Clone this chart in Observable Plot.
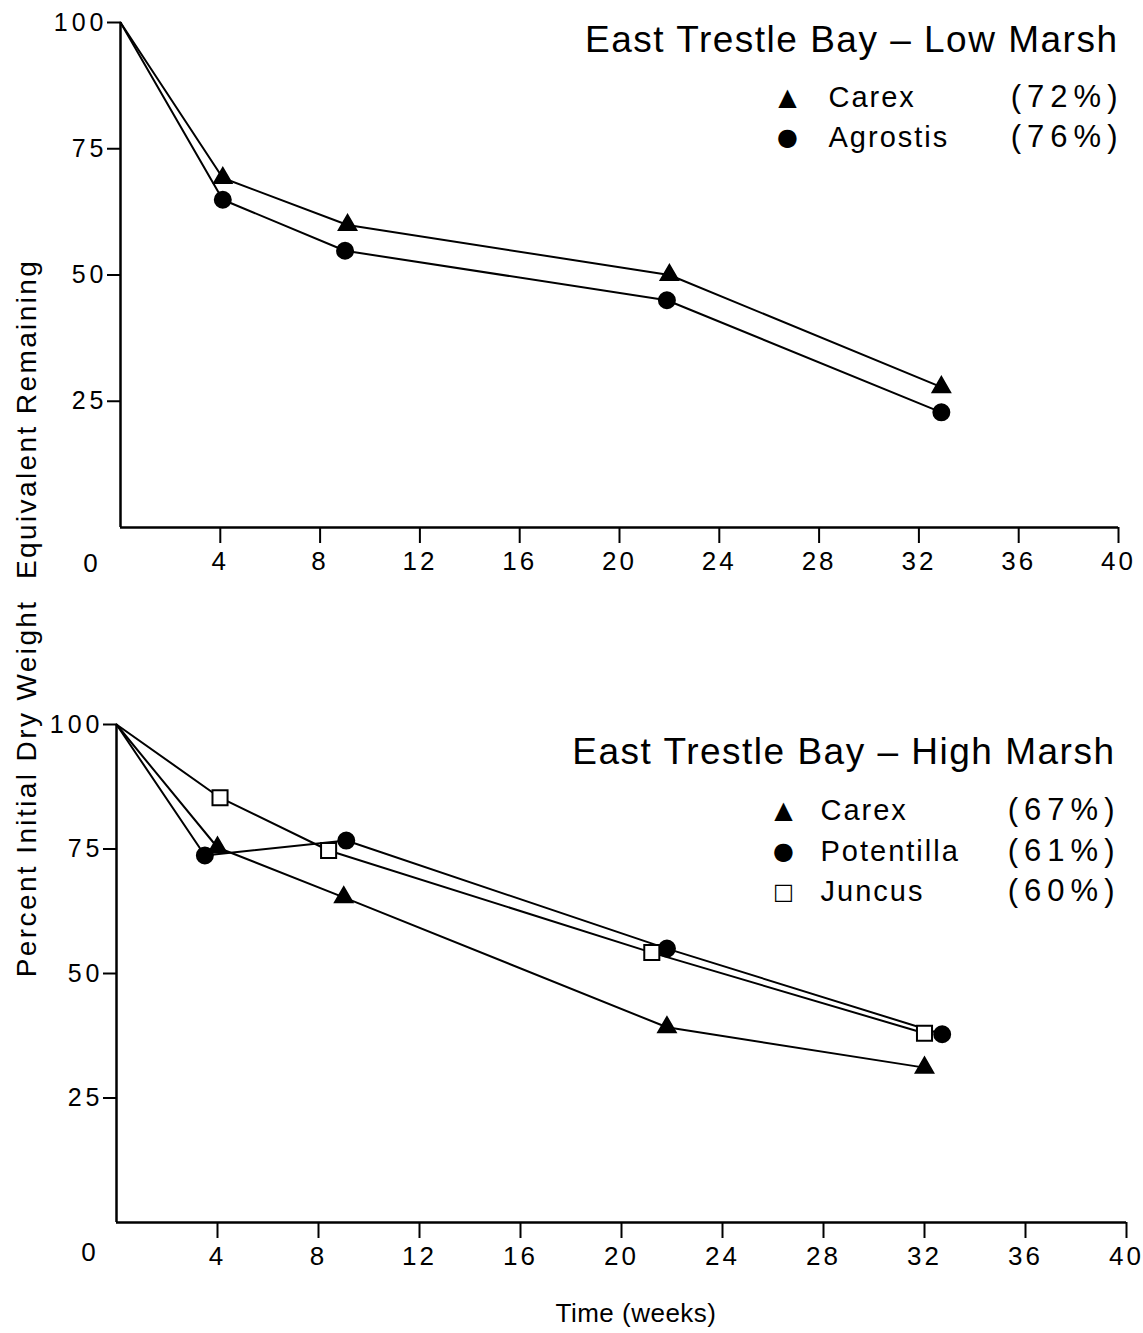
<!DOCTYPE html>
<html><head><meta charset="utf-8">
<script src="https://cdn.jsdelivr.net/npm/d3@7"></script>
<script src="https://cdn.jsdelivr.net/npm/@observablehq/plot@0.6"></script>
<style>
body{margin:0;background:#fff;}
#wrap{position:relative;width:1143px;height:1333px;font-family:"Liberation Sans",Arial,sans-serif;color:#000;background:#fff;overflow:hidden;}
.panel{position:absolute;left:0;}
.panel svg g[aria-label="x-axis tick label"] text{letter-spacing:3px;}
.panel svg g[aria-label="y-axis tick label"] text{letter-spacing:4px;}
.panel svg .ttl text{letter-spacing:1.5px;}
.panel svg .lab text{letter-spacing:2px;}
.panel svg .pct text{letter-spacing:6px;}
#ylab{position:absolute;left:27px;top:618px;transform:translate(-50%,-50%) rotate(-90deg);white-space:nowrap;font-size:28px;letter-spacing:2.4px;}
#xlab{position:absolute;left:636px;top:1313px;transform:translate(-50%,-50%);white-space:nowrap;font-size:26px;letter-spacing:0.5px;}
</style>
</head><body>
<div id="wrap">
  <div id="top" class="panel" style="top:0px"></div>
  <div id="bottom" class="panel" style="top:700px"></div>
  <div id="ylab">Percent Initial Dry Weight &nbsp;Equivalent Remaining</div>
  <div id="xlab">Time (weeks)</div>
</div>
<script>
// ---- tick labels ----
const xTicks = [4, 8, 12, 16, 20, 24, 28, 32, 36, 40];
const yTicks = [25, 50, 75, 100];
const originLabel = ["0"];

// ---- Low Marsh panel ----
const lowTitle = "East Trestle Bay \u2013 Low Marsh";
const lowSpecies = ["Carex", "Agrostis"];
const lowPercent = ["(72%)", "(76%)"];
const lowSymbols = ["triangle", "circle"];
const lowCarexWeeks = [0, 4.1, 9.1, 22.0, 32.9];
const lowCarexPct = [100, 69.2, 59.9, 50.0, 27.8];
const lowAgrostisWeeks = [0, 4.1, 9.0, 21.9, 32.9];
const lowAgrostisPct = [100, 64.9, 54.8, 45.0, 22.8];

// ---- High Marsh panel ----
const highTitle = "East Trestle Bay \u2013 High Marsh";
const highSpecies = ["Carex", "Potentilla", "Juncus"];
const highPercent = ["(67%)", "(61%)", "(60%)"];
const highSymbols = ["triangle", "circle", "square"];
const highCarexWeeks = [0, 4.0, 9.0, 21.8, 32.0];
const highCarexPct = [100, 75.3, 65.3, 39.2, 31.1];
const highPotentillaWeeks = [0, 3.5, 9.1, 21.8, 32.7];
const highPotentillaPct = [100, 73.7, 76.7, 55.0, 37.8];
const highJuncusWeeks = [0, 4.1, 8.4, 21.2, 32.0];
const highJuncusPct = [100, 85.3, 74.7, 54.2, 38.0];

function rows(name, weeks, pct) {
  return weeks.map((w, i) => ({species: name, week: w, pct: pct[i], i}));
}

const glyph = {triangle: "\u25B2", circle: "\u25CF", square: "\u25A1"};
const symR = {triangle: 6.5, circle: 8, square: 8.5};

function panel({series, symbols, species, percent, title, width, height, mt, mb, ml, mr, leg, zeroOff}) {
  const data = series.flat();
  const marks = [
    Plot.ruleY([0], {stroke: "#000", strokeWidth: 2.5}),
    Plot.ruleX([0], {stroke: "#000", strokeWidth: 2.5}),
    Plot.axisX({ticks: xTicks, tickSize: 16, tickPadding: 8, fontSize: 26, tickFormat: d => d, label: null, stroke: "#000", strokeWidth: 2}),
    Plot.axisY({ticks: yTicks, tickSize: 13, tickPadding: 0, fontSize: 25, tickFormat: d => d, label: null, stroke: "#000", strokeWidth: 2}),
    Plot.line(data, {x: "week", y: "pct", z: "species", stroke: "#000", strokeWidth: 2})
  ];
  series.forEach((s, k) => {
    const sym = symbols[k];
    marks.push(Plot.dot(s.filter(d => d.i > 0), {
      x: "week", y: "pct", symbol: sym, r: symR[sym],
      fill: sym === "square" ? "#fff" : "#000", stroke: "#000", strokeWidth: 2
    }));
  });
  marks.push(Plot.text(originLabel, {x: () => 0, y: () => 0, text: d => d, dx: zeroOff[0], dy: zeroOff[1], fontSize: 26, fill: "#000"}));
  marks.push(Plot.text([title], {frameAnchor: "top-right", text: d => d, dx: leg.titleDx, dy: leg.titleDy, textAnchor: "end", lineAnchor: "middle", fontSize: 37, fill: "#000", className: "ttl"}));
  species.forEach((s, i) => {
    const dy = leg.rowDy[i];
    marks.push(Plot.text([glyph[symbols[i]]], {frameAnchor: "top-right", text: d => d, dx: leg.symDx, dy, textAnchor: "middle", lineAnchor: "middle", fontSize: symbols[i] === "square" ? 22 : 24, fontFamily: "DejaVu Sans", fill: "#000"}));
    marks.push(Plot.text([s], {frameAnchor: "top-right", text: d => d, dx: leg.labDx, dy, textAnchor: "start", lineAnchor: "middle", fontSize: 29, fill: "#000", className: "lab"}));
    marks.push(Plot.text([percent[i]], {frameAnchor: "top-right", text: d => d, dx: leg.pctDx, dy, textAnchor: "end", lineAnchor: "middle", fontSize: 31, fill: "#000", className: "pct"}));
  });
  return Plot.plot({
    width, height,
    marginTop: mt, marginBottom: mb, marginLeft: ml, marginRight: mr,
    style: {fontFamily: "Liberation Sans, Arial, sans-serif", fontSize: "23px", color: "#000", background: "#fff", overflow: "visible"},
    x: {domain: [0, 40], label: null},
    y: {domain: [0, 100], label: null},
    marks
  });
}

const topChart = panel({
  series: [rows("Carex", lowCarexWeeks, lowCarexPct), rows("Agrostis", lowAgrostisWeeks, lowAgrostisPct)],
  symbols: lowSymbols, species: lowSpecies, percent: lowPercent, title: lowTitle,
  width: 1143, height: 600, mt: 22, mb: 73, ml: 120, mr: 25,
  leg: {titleDx: 0, titleDy: 18, symDx: -331, labDx: -290, pctDx: 5, rowDy: [75, 115]},
  zeroOff: [-30, 36]
});
const bottomChart = panel({
  series: [rows("Carex", highCarexWeeks, highCarexPct), rows("Potentilla", highPotentillaWeeks, highPotentillaPct), rows("Juncus", highJuncusWeeks, highJuncusPct)],
  symbols: highSymbols, species: highSpecies, percent: highPercent, title: highTitle,
  width: 1143, height: 600, mt: 24, mb: 78, ml: 116, mr: 17,
  leg: {titleDx: -11, titleDy: 28, symDx: -343, labDx: -306, pctDx: -6, rowDy: [86, 127, 167]},
  zeroOff: [-28, 30]
});
document.getElementById("top").appendChild(topChart);
document.getElementById("bottom").appendChild(bottomChart);
</script>
</body></html>
